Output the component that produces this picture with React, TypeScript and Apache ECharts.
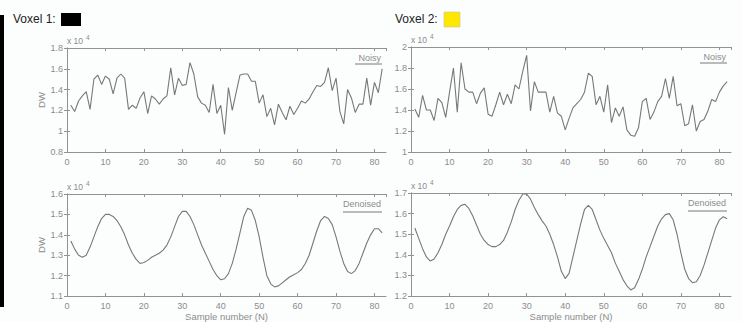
import React, { useEffect, useRef } from "react";
import * as echarts from "echarts";

// Values in units of x10^4, sample numbers 1..82
const voxel1Noisy = [
  1.25, 1.19, 1.29, 1.34, 1.38, 1.21, 1.5, 1.54, 1.45, 1.53,
  1.5, 1.36, 1.51, 1.55, 1.51, 1.21, 1.25, 1.22, 1.32, 1.38,
  1.17, 1.34, 1.31, 1.26, 1.31, 1.34, 1.61, 1.35, 1.51, 1.44,
  1.45, 1.66, 1.55, 1.33, 1.27, 1.25, 1.18, 1.45, 1.17, 1.25,
  0.97, 1.42, 1.2, 1.37, 1.54, 1.55, 1.55, 1.48, 1.48, 1.27,
  1.35, 1.14, 1.22, 1.06, 1.26, 1.18, 1.11, 1.24, 1.16, 1.22,
  1.29, 1.27, 1.31, 1.38, 1.44, 1.43, 1.47, 1.61, 1.39, 1.51,
  1.19, 1.07, 1.4, 1.32, 1.18, 1.26, 1.26, 1.51, 1.25, 1.47,
  1.37, 1.6,
];

const voxel2Noisy = [
  1.41, 1.33, 1.54, 1.4, 1.4, 1.3, 1.51, 1.47, 1.33, 1.57,
  1.8, 1.38, 1.85, 1.6, 1.57, 1.57, 1.46, 1.56, 1.61, 1.36,
  1.34, 1.45, 1.57, 1.45, 1.55, 1.46, 1.64, 1.6, 1.77, 1.92,
  1.39, 1.67, 1.57, 1.57, 1.57, 1.38, 1.53, 1.37, 1.34, 1.21,
  1.32, 1.42, 1.46, 1.5, 1.57, 1.75, 1.72, 1.45, 1.53, 1.38,
  1.64, 1.28, 1.42, 1.34, 1.43, 1.21, 1.16, 1.15, 1.23, 1.48,
  1.51, 1.31, 1.38, 1.48, 1.53, 1.7, 1.51, 1.72, 1.44, 1.46,
  1.25, 1.27, 1.45, 1.2, 1.29, 1.31, 1.39, 1.5, 1.48, 1.57,
  1.63, 1.67,
];

const voxel1Denoised = [
  1.37, 1.33, 1.3, 1.29, 1.3, 1.34, 1.39, 1.44, 1.48, 1.5,
  1.5, 1.49, 1.47, 1.44, 1.4, 1.35, 1.31, 1.28, 1.26, 1.265,
  1.275, 1.29, 1.3, 1.31, 1.325, 1.35, 1.39, 1.44, 1.49, 1.515,
  1.515, 1.49, 1.45, 1.4, 1.35, 1.31, 1.27, 1.23, 1.2, 1.18,
  1.185, 1.21, 1.26, 1.33, 1.41, 1.49, 1.53, 1.52, 1.47, 1.39,
  1.29, 1.2, 1.16, 1.145, 1.15, 1.165, 1.18, 1.195, 1.205, 1.215,
  1.23, 1.26, 1.3, 1.36, 1.42, 1.47, 1.49, 1.48, 1.45, 1.39,
  1.32, 1.26, 1.22, 1.21, 1.225, 1.26, 1.31, 1.36, 1.4, 1.43,
  1.43, 1.41,
];

const voxel2Denoised = [
  1.53, 1.48, 1.43, 1.39, 1.37, 1.38, 1.41, 1.45, 1.5, 1.54,
  1.585, 1.62, 1.64, 1.645, 1.625, 1.59, 1.545, 1.5, 1.47, 1.45,
  1.44, 1.44, 1.45, 1.47, 1.51, 1.56, 1.62, 1.665, 1.695, 1.695,
  1.67, 1.63, 1.595, 1.565, 1.54, 1.5, 1.45, 1.39, 1.32, 1.285,
  1.31, 1.39, 1.47, 1.55, 1.62, 1.64, 1.62, 1.57, 1.52, 1.48,
  1.445, 1.41, 1.36, 1.32, 1.28, 1.25, 1.23, 1.24, 1.28, 1.33,
  1.39, 1.44, 1.49, 1.54, 1.575, 1.595, 1.6, 1.57, 1.5, 1.41,
  1.33, 1.285, 1.265, 1.27, 1.3, 1.35, 1.41, 1.47, 1.53, 1.57,
  1.585, 1.575,
];

const xRange = [0, 83];
const xStep = 10;
const yRanges = [
  [0.8, 1.8, 0.2],
  [1.0, 2.0, 0.2],
  [1.1, 1.6, 0.1],
  [1.2, 1.7, 0.1],
];
const panelLabels = ["Noisy", "Noisy", "Denoised", "Denoised"];
const titles = ["Voxel 1:", "Voxel 2:"];

const FONT = "'Liberation Sans', Arial, Helvetica, sans-serif";
const LINE = "#787878";
const AXIS = "#929292";
const LABEL = "#8c8c8c";

const grids = [
  { left: 67, top: 48, width: 319, height: 104 },
  { left: 411, top: 47, width: 320, height: 105 },
  { left: 67, top: 194, width: 319, height: 104 },
  { left: 411, top: 193, width: 320, height: 104 },
];

export default function App() {
  const ref = useRef<HTMLDivElement>(null);

  useEffect(() => {
    if (!ref.current) return;
    const chart = echarts.init(ref.current, undefined, { renderer: "svg" });
    const seriesData = [voxel1Noisy, voxel2Noisy, voxel1Denoised, voxel2Denoised];

    const tick = { show: true, inside: true, length: 3, lineStyle: { color: AXIS, width: 1 } };
    const line = { show: true, lineStyle: { color: AXIS, width: 1 } };
    const fmt = (v: number) => String(Math.round(v * 10) / 10);

    const xAxis: any[] = [];
    const yAxis: any[] = [];
    grids.forEach((_, i) => {
      xAxis.push({
        type: "value",
        gridIndex: i,
        min: xRange[0],
        max: xRange[1],
        interval: xStep,
        position: "bottom",
        axisLine: line,
        axisTick: tick,
        splitLine: { show: false },
        axisLabel: {
          color: LABEL,
          fontSize: 9,
          fontFamily: FONT,
          margin: 5,
          showMaxLabel: false,
        },
        name: i >= 2 ? "Sample number (N)" : "",
        nameLocation: "middle",
        nameGap: 14,
        nameTextStyle: { color: LABEL, fontSize: 9.5, fontFamily: FONT },
      });
      yAxis.push({
        type: "value",
        gridIndex: i,
        min: yRanges[i][0],
        max: yRanges[i][1],
        interval: yRanges[i][2],
        position: "left",
        axisLine: line,
        axisTick: tick,
        splitLine: { show: false },
        axisLabel: { color: LABEL, fontSize: 9, fontFamily: FONT, margin: 4, formatter: fmt },
        name: i % 2 === 0 ? "DW" : "",
        nameLocation: "middle",
        nameRotate: 90,
        nameGap: 14,
        nameTextStyle: { color: LABEL, fontSize: 9.5, fontFamily: FONT },
      });
    });
    grids.forEach((_, i) => {
      xAxis.push({
        type: "value",
        gridIndex: i,
        min: xRange[0],
        max: xRange[1],
        interval: xStep,
        position: "top",
        axisLine: line,
        axisTick: tick,
        axisLabel: { show: false },
        splitLine: { show: false },
      });
      yAxis.push({
        type: "value",
        gridIndex: i,
        min: yRanges[i][0],
        max: yRanges[i][1],
        interval: yRanges[i][2],
        position: "right",
        axisLine: line,
        axisTick: tick,
        axisLabel: { show: false },
        splitLine: { show: false },
      });
    });

    const series = seriesData.map((arr, i) => ({
      type: "line",
      xAxisIndex: i,
      yAxisIndex: i,
      data: arr.map((v, k) => [k + 1, v]),
      showSymbol: false,
      symbol: "none",
      lineStyle: { color: LINE, width: 1.1 },
      silent: true,
    }));

    const txt = (text: string, x: number, y: number, size: number, color: string, align = "left") => ({
      type: "text",
      x,
      y,
      silent: true,
      style: {
        text,
        fill: color,
        font: `${size}px ${FONT}`,
        align,
        verticalAlign: "middle",
        textAlign: align,
        textVerticalAlign: "middle",
      },
    });

    const graphic: any[] = [
      { type: "rect", shape: { x: 0, y: 15, width: 4, height: 292 }, style: { fill: "#000" }, silent: true },
      txt(titles[0], 13, 19, 12, "#222"),
      { type: "rect", shape: { x: 61, y: 13, width: 20, height: 13 }, style: { fill: "#000" }, silent: true },
      txt(titles[1], 395, 19, 12, "#222"),
      {
        type: "rect",
        shape: { x: 444, y: 12, width: 16, height: 15 },
        style: { fill: "#ffe800", stroke: "#c8c8a0", lineWidth: 0.6 },
        silent: true,
      },
    ];

    grids.forEach((g, i) => {
      const right = g.left + g.width;
      graphic.push(txt("x 10", g.left, g.top - 7, 8.5, LABEL));
      graphic.push(txt("4", g.left + 19, g.top - 11, 6.5, LABEL));
      const isNoisy = i < 2;
      const cy = g.top + 10;
      graphic.push(txt(panelLabels[i], right - 5, cy, 9, LABEL, "right"));
      const lineY = isNoisy ? g.top + 16 : g.top + 18;
      const lineW = isNoisy ? 27 : 39;
      graphic.push({
        type: "line",
        silent: true,
        shape: { x1: right - 4 - lineW, y1: lineY, x2: right - 4, y2: lineY },
        style: { stroke: LINE, lineWidth: 1 },
      });
    });

    chart.setOption({
      animation: false,
      backgroundColor: "#fcfdfd",
      textStyle: { fontFamily: FONT },
      grid: grids,
      xAxis,
      yAxis,
      series,
      graphic,
    });

    return () => chart.dispose();
  }, []);

  return (
    <div
      ref={ref}
      style={{ position: "fixed", left: 0, top: 0, width: 742, height: 322 }}
    />
  );
}
